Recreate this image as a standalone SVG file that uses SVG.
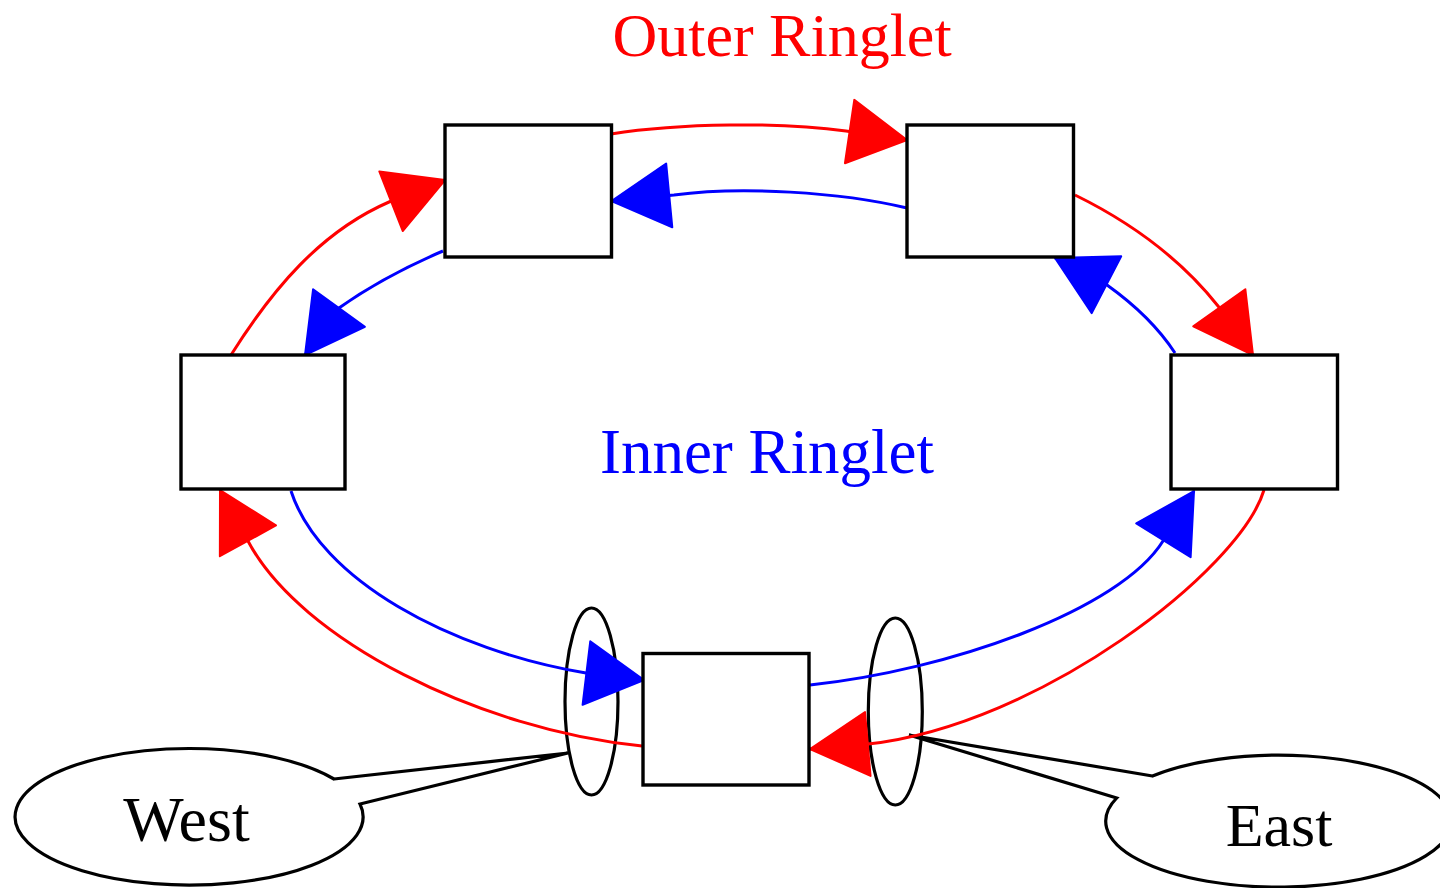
<svg xmlns="http://www.w3.org/2000/svg" width="1440" height="888" viewBox="0 0 1440 888">
<style>
.box{fill:#fff;stroke:#000;stroke-width:3.4}
.edge{fill:none;stroke-width:3}
.red{stroke:#f00}
.blue{stroke:#00f}
.call{fill:#fff;stroke:#000;stroke-width:3.2}
.ring{fill:none;stroke:#000;stroke-width:3.2}
.lbl{font-family:"Liberation Serif","Times New Roman",serif;text-anchor:middle}
</style>
<defs>
<marker id="ahR" markerUnits="userSpaceOnUse" viewBox="0 0 62 68" markerWidth="62" markerHeight="68" refX="60" refY="34" orient="auto" overflow="visible">
<path d="M2,2 L60,34 L2,66 Z" fill="#f00" stroke="#f00" stroke-width="2" stroke-linejoin="round"/>
</marker>
<marker id="ahB" markerUnits="userSpaceOnUse" viewBox="0 0 62 68" markerWidth="62" markerHeight="68" refX="60" refY="34" orient="auto" overflow="visible">
<path d="M2,2 L60,34 L2,66 Z" fill="#00f" stroke="#00f" stroke-width="2" stroke-linejoin="round"/>
</marker>
</defs>
<rect width="1440" height="888" fill="#fff"/>

<g id="callout-west">
<path class="call" d="M334,779 L568,753 L360,804 A174,68.3 0 1,1 334,779 Z"/>
<ellipse class="ring" cx="591.5" cy="701.5" rx="26.5" ry="93.5"/>
<text class="lbl" x="186.5" y="841" font-size="64">West</text>
</g>
<g id="callout-east">
<path class="call" d="M1152.5,776 L909,735 L1116.7,798 A173,66 0 1,0 1152.5,776 Z"/>
<ellipse class="ring" cx="895.3" cy="711.5" rx="27" ry="93.5"/>
<text class="lbl" x="1279" y="846" font-size="62">East</text>
</g>

<g id="connectors">
<path class="edge red" marker-end="url(#ahR)" d="M231,355 C272,290 320,232 389,202 L445,180"/>
<path class="edge red" marker-end="url(#ahR)" d="M611,134 C680,123 780,122 846,131 L907,140"/>
<path class="edge red" marker-end="url(#ahR)" d="M1075,195 C1130,222 1180,258 1218,306 L1253,355"/>
<path class="edge red" marker-end="url(#ahR)" d="M1264,490 C1240,570 1040,725 868,744 L810,749"/>
<path class="edge red" marker-end="url(#ahR)" d="M642,746 C480,730 300,640 248,541 L220,490"/>
<path class="edge blue" marker-end="url(#ahB)" d="M907,208 C840,192 740,186 674,195 L611.5,201"/>
<path class="edge blue" marker-end="url(#ahB)" d="M443,251 C408,266 370,286 339,308 L305,355"/>
<path class="edge blue" marker-end="url(#ahB)" d="M291,491 C320,580 450,650 586,673 L644,680"/>
<path class="edge blue" marker-end="url(#ahB)" d="M810,685 C950,670 1120,610 1163,541 L1194,491"/>
<path class="edge blue" marker-end="url(#ahB)" d="M1175,353 C1160,330 1135,305 1107,285 L1055,258"/>
</g>

<g id="node-topleft"><rect class="box" x="445" y="125" width="166.5" height="132"/></g>
<g id="node-topright"><rect class="box" x="907" y="125" width="166.5" height="132"/></g>
<g id="node-left"><rect class="box" x="181" y="355" width="164" height="134"/></g>
<g id="node-right"><rect class="box" x="1171" y="355" width="166.5" height="134"/></g>
<g id="node-bottom"><rect class="box" x="643" y="653.5" width="166" height="131.5"/></g>

<text class="lbl" x="782" y="56" font-size="62">
<tspan fill="#f00">Outer Ringlet</tspan></text>
<text class="lbl" x="767" y="473" font-size="63" fill="#00f">Inner Ringlet</text>
</svg>
